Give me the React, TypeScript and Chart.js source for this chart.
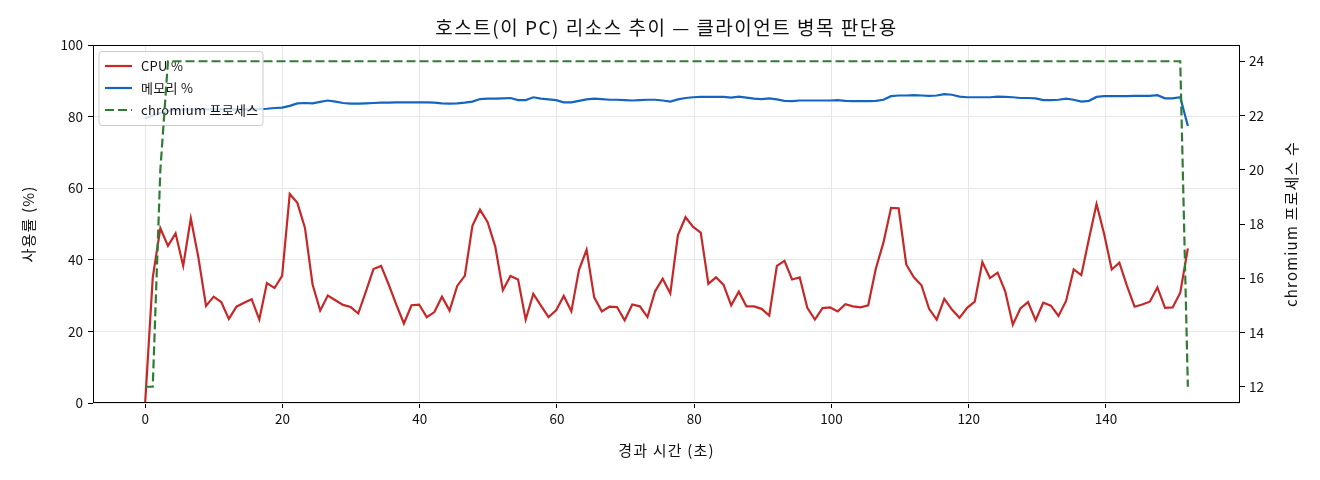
import React, { useEffect, useRef } from "react";
import { Chart, registerables } from "chart.js";

Chart.register(...registerables);

// one sample roughly every 1.11 s
const SAMPLE_INTERVAL_S = 1.109;

const CPU_PCT = [
  0, 35.0, 48.8, 43.9, 47.4, 38.3, 51.6, 40.6, 27.1, 29.7,
  28.2, 23.5, 26.9, 28.0, 29.0, 23.3, 33.5, 32.1, 35.5, 58.4,
  55.9, 48.9, 33.1, 25.8, 30.0, 28.7, 27.4, 26.8, 25.0, 31.1,
  37.4, 38.3, 33.1, 27.5, 22.2, 27.3, 27.5, 24.0, 25.4, 29.7,
  25.8, 32.7, 35.5, 49.5, 54.0, 50.5, 43.7, 31.5, 35.5, 34.5,
  23.3, 30.5, 27.2, 24.0, 25.9, 29.9, 25.6, 37.2, 42.8, 29.5,
  25.6, 26.9, 26.8, 23.1, 27.5, 27.0, 24.0, 31.2, 34.7, 30.6,
  46.9, 51.9, 49.2, 47.6, 33.3, 35.1, 33.0, 27.3, 31.1, 27.0,
  27.0, 26.3, 24.4, 38.3, 39.7, 34.5, 35.1, 26.6, 23.3, 26.5,
  26.7, 25.6, 27.6, 27.0, 26.7, 27.3, 37.5, 44.8, 54.5, 54.4,
  38.7, 35.1, 32.9, 26.3, 23.3, 29.1, 26.1, 23.8, 26.6, 28.3,
  39.4, 34.9, 36.4, 31.2, 21.9, 26.4, 28.2, 23.1, 28.0, 27.2,
  24.3, 28.5, 37.3, 35.7, 45.8, 55.6, 47.2, 37.3, 39.2, 32.7,
  26.9, 27.5, 28.3, 32.3, 26.6, 26.7, 30.8, 43.2,
];

const MEM_PCT = [
  79.5, 80.3, 81.0, 81.6, 81.9, 82.0, 82.0, 82.0, 82.0, 82.0,
  82.0, 82.0, 82.0, 82.0, 82.0, 82.1, 82.2, 82.4, 82.5, 83.0,
  83.7, 83.8, 83.7, 84.1, 84.5, 84.2, 83.8, 83.6, 83.6, 83.7,
  83.8, 83.9, 83.9, 84.0, 84.0, 84.0, 84.0, 84.0, 83.9, 83.7,
  83.6, 83.7, 83.9, 84.2, 84.9, 85.0, 85.0, 85.1, 85.2, 84.6,
  84.6, 85.4, 85.0, 84.8, 84.6, 84.0, 84.0, 84.4, 84.8, 85.0,
  84.9, 84.7, 84.7, 84.6, 84.5, 84.6, 84.7, 84.7, 84.5, 84.2,
  84.8, 85.2, 85.4, 85.5, 85.5, 85.5, 85.5, 85.3, 85.6, 85.3,
  85.0, 84.9, 85.1, 84.8, 84.4, 84.3, 84.5, 84.5, 84.5, 84.5,
  84.5, 84.6, 84.4, 84.3, 84.3, 84.3, 84.4, 84.7, 85.7, 85.9,
  85.9, 86.0, 85.9, 85.8, 85.9, 86.3, 86.1, 85.6, 85.4, 85.4,
  85.4, 85.4, 85.6, 85.5, 85.4, 85.2, 85.2, 85.1, 84.6, 84.6,
  84.7, 85.0, 84.7, 84.2, 84.4, 85.5, 85.7, 85.7, 85.7, 85.7,
  85.8, 85.8, 85.8, 86.0, 85.1, 85.1, 85.4, 77.4,
];

const CHROMIUM_PROCS = [
  12, 12, 20, 24, 24, 24, 24, 24, 24, 24,
  24, 24, 24, 24, 24, 24, 24, 24, 24, 24,
  24, 24, 24, 24, 24, 24, 24, 24, 24, 24,
  24, 24, 24, 24, 24, 24, 24, 24, 24, 24,
  24, 24, 24, 24, 24, 24, 24, 24, 24, 24,
  24, 24, 24, 24, 24, 24, 24, 24, 24, 24,
  24, 24, 24, 24, 24, 24, 24, 24, 24, 24,
  24, 24, 24, 24, 24, 24, 24, 24, 24, 24,
  24, 24, 24, 24, 24, 24, 24, 24, 24, 24,
  24, 24, 24, 24, 24, 24, 24, 24, 24, 24,
  24, 24, 24, 24, 24, 24, 24, 24, 24, 24,
  24, 24, 24, 24, 24, 24, 24, 24, 24, 24,
  24, 24, 24, 24, 24, 24, 24, 24, 24, 24,
  24, 24, 24, 24, 24, 24, 24, 12,
];

const X_TICKS = [0, 20, 40, 60, 80, 100, 120, 140];
const Y_TICKS = [0, 20, 40, 60, 80, 100];
const Y2_TICKS = [12, 14, 16, 18, 20, 22, 24];

const TITLE = "호스트(이 PC) 리소스 추이 — 클라이언트 병목 판단용";
const X_LABEL = "경과 시간 (초)";
const Y_LABEL = "사용률 (%)";
const Y2_LABEL = "chromium 프로세스 수";

const FONT = '"Noto Sans CJK KR", "Noto Sans", sans-serif';
const RED = "#c62828";
const BLUE = "#1565c0";
const GREEN = "#2e7d32";
const GRID = "#e6e6e6";

const elapsed = CPU_PCT.map((_, i) => i * SAMPLE_INTERVAL_S);
const toPoints = (vals: number[]) => vals.map((y, i) => ({ x: elapsed[i], y }));
const tMax = elapsed[elapsed.length - 1];

const text = (ctx: any, s: string, x: number, y: number, size: number, spacing: number, rot = 0) => {
  ctx.save();
  ctx.font = `${size}px ${FONT}`;
  ctx.letterSpacing = `${spacing}px`;
  ctx.fillStyle = "#111";
  ctx.textAlign = "center";
  ctx.textBaseline = "middle";
  ctx.translate(x, y);
  if (rot) ctx.rotate(rot);
  ctx.fillText(s, 0, 0);
  ctx.restore();
};

// frame, title and axis labels
const decorPlugin = {
  id: "decor",
  afterDraw(chart: any) {
    const { ctx, chartArea: a } = chart;
    ctx.save();
    ctx.strokeStyle = "#000";
    ctx.lineWidth = 1;
    ctx.strokeRect(a.left + 0.5, a.top + 0.5, a.right - a.left - 1, a.bottom - a.top - 1);
    ctx.restore();

    const cx = (a.left + a.right) / 2;
    const cy = (a.top + a.bottom) / 2;
    text(ctx, TITLE, cx, 28, 19, 1.5);
    text(ctx, X_LABEL, cx, 450, 15, 1.2);
    text(ctx, Y_LABEL, 28, cy, 15, 1.2, -Math.PI / 2);
    text(ctx, Y2_LABEL, 1291, cy, 15, 1.2, -Math.PI / 2);
  },
};

// legend sits above the left-axis lines but under the chromium line
const legendPlugin = {
  id: "boxLegend",
  afterDatasetDraw(chart: any, args: any) {
    if (args.index !== 1) return;
    const { ctx, chartArea: a } = chart;
    const x = a.left + 6;
    const y = a.top + 6.5;
    ctx.save();
    ctx.beginPath();
    ctx.roundRect(x, y, 164, 74, 3);
    ctx.fillStyle = "rgba(255,255,255,0.8)";
    ctx.fill();
    ctx.strokeStyle = "#cccccc";
    ctx.lineWidth = 1;
    ctx.stroke();

    chart.data.datasets.forEach((ds: any, i: number) => {
      const ry = a.top + 21 + i * 22;
      ctx.beginPath();
      ctx.strokeStyle = ds.borderColor;
      ctx.lineWidth = 2.2;
      ctx.setLineDash(ds.borderDash || []);
      ctx.moveTo(a.left + 12, ry);
      ctx.lineTo(a.left + 39, ry);
      ctx.stroke();
      ctx.setLineDash([]);
      ctx.fillStyle = "#111";
      ctx.font = `13px ${FONT}`;
      ctx.letterSpacing = "0.3px";
      ctx.textAlign = "left";
      ctx.textBaseline = "middle";
      ctx.fillText(ds.label, a.left + 48, ry);
    });
    ctx.restore();
  },
};

const setTicks = (list: number[]) => (scale: any) => {
  scale.ticks = list.map((value) => ({ value }));
};

const App = () => {
  const canvasRef = useRef<HTMLCanvasElement>(null);
  const chartRef = useRef<Chart | null>(null);

  useEffect(() => {
    if (!canvasRef.current) return;

    const tickFont = { family: FONT, size: 13.5 };
    const tickMarks = { color: GRID, tickColor: "#000", tickLength: 5, lineWidth: 1 };

    chartRef.current = new Chart(canvasRef.current, {
      type: "line",
      data: {
        datasets: [
          {
            label: "CPU %",
            data: toPoints(CPU_PCT),
            borderColor: RED,
            borderWidth: 2.2,
            yAxisID: "y",
            order: 2,
          },
          {
            label: "메모리 %",
            data: toPoints(MEM_PCT),
            borderColor: BLUE,
            borderWidth: 2.2,
            yAxisID: "y",
            order: 1,
          },
          {
            label: "chromium 프로세스",
            data: toPoints(CHROMIUM_PROCS),
            borderColor: GREEN,
            borderWidth: 2.2,
            borderDash: [9, 4],
            yAxisID: "y1",
            order: 0,
          },
        ],
      },
      options: {
        responsive: true,
        maintainAspectRatio: false,
        animation: false,
        layout: { padding: { top: 45, left: 0, right: 0, bottom: 0 } },
        elements: {
          point: { radius: 0, hoverRadius: 0 },
          line: { tension: 0, fill: false },
        },
        plugins: {
          legend: { display: false },
          title: { display: false },
          tooltip: { enabled: false },
        },
        scales: {
          x: {
            type: "linear",
            min: -0.05 * tMax,
            max: 1.05 * tMax,
            afterBuildTicks: setTicks(X_TICKS),
            afterFit: (s: any) => {
              s.height = 77;
            },
            border: { display: false },
            grid: tickMarks,
            ticks: { font: tickFont, color: "#111", padding: 3, maxRotation: 0 },
          },
          y: {
            type: "linear",
            position: "left",
            min: 0,
            max: 100,
            afterBuildTicks: setTicks(Y_TICKS),
            afterFit: (s: any) => {
              s.width = 93;
            },
            border: { display: false },
            grid: tickMarks,
            ticks: { font: tickFont, color: "#111", padding: 5 },
          },
          y1: {
            type: "linear",
            position: "right",
            min: 11.4,
            max: 24.6,
            afterBuildTicks: setTicks(Y2_TICKS),
            afterFit: (s: any) => {
              s.width = 80;
            },
            border: { display: false },
            grid: { drawOnChartArea: false, tickColor: "#000", tickLength: 5 },
            ticks: { font: tickFont, color: "#111", padding: 4 },
          },
        },
      },
      plugins: [legendPlugin, decorPlugin],
    } as any);

    return () => {
      if (chartRef.current) {
        chartRef.current.destroy();
        chartRef.current = null;
      }
    };
  }, []);

  return (
    <div style={{ position: "absolute", left: 0, top: 0, width: 1320, height: 480, background: "#fff" }}>
      <canvas ref={canvasRef} />
    </div>
  );
};

export default App;
